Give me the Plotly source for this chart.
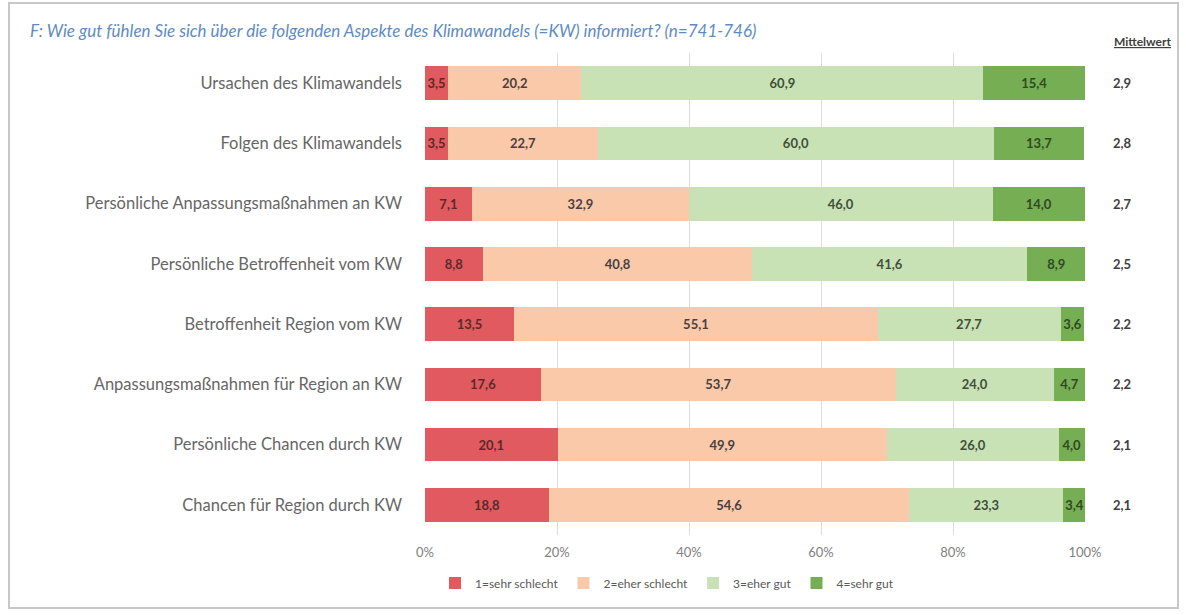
import plotly.graph_objects as go

categories = [
    "Ursachen des Klimawandels",
    "Folgen des Klimawandels",
    "Persönliche Anpassungsmaßnahmen an KW",
    "Persönliche Betroffenheit vom KW",
    "Betroffenheit Region vom KW",
    "Anpassungsmaßnahmen für Region an KW",
    "Persönliche Chancen durch KW",
    "Chancen für Region durch KW",
]
sehr_schlecht = [3.5, 3.5, 7.1, 8.8, 13.5, 17.6, 20.1, 18.8]
eher_schlecht = [20.2, 22.7, 32.9, 40.8, 55.1, 53.7, 49.9, 54.6]
eher_gut = [60.9, 60.0, 46.0, 41.6, 27.7, 24.0, 26.0, 23.3]
sehr_gut = [15.4, 13.7, 14.0, 8.9, 3.6, 4.7, 4.0, 3.4]
mittelwert = ["2,9", "2,8", "2,7", "2,5", "2,2", "2,2", "2,1", "2,1"]
series_names = ["1=sehr schlecht", "2=eher schlecht", "3=eher gut", "4=sehr gut"]
tick_vals = [0, 20, 40, 60, 80, 100]
tick_text = ["0%", "20%", "40%", "60%", "80%", "100%"]

series = [sehr_schlecht, eher_schlecht, eher_gut, sehr_gut]
colors = ["#e05a5f", "#f9c9a9", "#c8e2b6", "#76ae54"]
text_colors = ["#5a2a2a", "#4a4040", "#3f4f38", "#2f4a22"]

W, H = 1186, 615
L, R, T, B = 425, 1085, 53, 535

fig = go.Figure()
for name, vals, c, tc in zip(series_names, series, colors, text_colors):
    fig.add_trace(go.Bar(
        y=categories, x=vals, name=name, orientation="h",
        marker=dict(color=c, line=dict(width=0)),
        texttemplate="<b>%{x:.1f}</b>", textposition="inside",
        insidetextanchor="middle", textangle=0,
        textfont=dict(family="Lato", size=13, color=tc),
        hoverinfo="skip",
    ))

for cat, m in zip(categories, mittelwert):
    fig.add_annotation(x=(1122 - L) / (R - L), xref="paper", y=cat, yref="y",
                       text="<b>" + m + "</b>", showarrow=False, xanchor="center",
                       font=dict(family="Lato", size=13, color="#404040"))

fig.add_annotation(x=(1142 - L) / (R - L), xref="paper", y=(B - 41) / (B - T), yref="paper",
                   text="<b><u>Mittelwert</u></b>", showarrow=False, xanchor="center", yanchor="middle",
                   font=dict(family="Lato", size=12, color="#404040"))

# outer frame
fig.add_shape(type="rect", xref="paper", yref="paper",
              x0=(9 - L) / (R - L), x1=(1178 - L) / (R - L),
              y0=(B - 608) / (B - T), y1=(B - 3) / (B - T),
              line=dict(color="#c8c8c8", width=2), fillcolor="rgba(0,0,0,0)", layer="below")

fig.update_layout(
    width=W, height=H,
    barmode="stack", bargap=0.44,
    separators=",.",
    paper_bgcolor="white", plot_bgcolor="white",
    margin=dict(l=L, r=W - R, t=T, b=H - B, autoexpand=False),
    font=dict(family="Lato", size=12, color="#595959"),
    title=dict(
        text="<i>F: Wie gut fühlen Sie sich über die folgenden Aspekte des Klimawandels (=KW) informiert? (n=741-746)</i>",
        x=30 / W, xref="container", xanchor="left",
        y=1 - 31 / H, yref="container", yanchor="middle",
        font=dict(family="Lato", size=17, color="#5e8bc4"),
    ),
    xaxis=dict(range=[0, 100], tickvals=tick_vals, ticktext=tick_text,
               showgrid=True, gridcolor="#dcdcdc", gridwidth=1,
               zeroline=False, showline=False, ticks="",
               tickfont=dict(family="Lato", size=13, color="#808080"), ticklabelstandoff=8),
    yaxis=dict(autorange="reversed", showgrid=False, showline=False, ticks="",
               tickfont=dict(family="Lato", size=16.5, color="#666666"), ticklabelstandoff=22),
    legend=dict(orientation="h", x=(667 - L) / (R - L), xanchor="center",
                y=(B - 583) / (B - T), yanchor="middle",
                font=dict(family="Lato", size=12, color="#595959"),
                itemwidth=30, traceorder="normal"),
    uniformtext=dict(minsize=13, mode="show"),
)

fig.write_html("out.html", config={"displayModeBar": False},
               post_script="document.body.style.margin='0';")
